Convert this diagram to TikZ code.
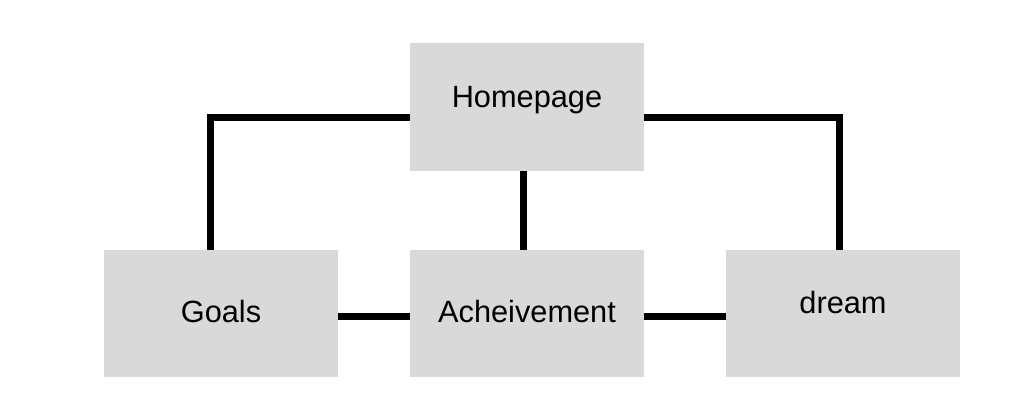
\documentclass[tikz,border=0pt]{standalone}
\usepackage{fontspec}
\setmainfont{Liberation Sans}
\definecolor{boxgray}{HTML}{D9D9D9}
\begin{document}
\begin{tikzpicture}[line join=miter,
    box/.style={fill=boxgray,minimum width=4.68cm,minimum height=2.54cm,inner sep=0pt,
      font=\fontsize{17.5}{21}\selectfont,text depth=0pt},
    link/.style={line width=0.14cm}]
  \useasboundingbox (0,0) rectangle (20.66,8);
  \node[box,minimum height=2.56cm,text height=0.04cm] (home) at (10.54,5.86) {Homepage};
  \node[box,text height=0.38cm] (goals) at (4.42,1.73) {Goals};
  \node[box,text height=0.36cm] (ach) at (10.54,1.73) {Acheivement};
  \node[box,text height=0.01cm] (dream) at (16.86,1.73) {dream};
  \draw[link] ([yshift=-0.21cm]home.west) -| ([xshift=-0.21cm]goals.north);
  \draw[link] ([yshift=-0.21cm]home.east) -| ([xshift=-0.08cm]dream.north);
  \draw[link] ([xshift=-0.08cm]home.south) -- ([xshift=-0.08cm]ach.north);
  \draw[link] ([yshift=-0.06cm]goals.east) -- ([yshift=-0.06cm]ach.west);
  \draw[link] ([yshift=-0.06cm]ach.east) -- ([yshift=-0.06cm]dream.west);
\end{tikzpicture}
\end{document}
